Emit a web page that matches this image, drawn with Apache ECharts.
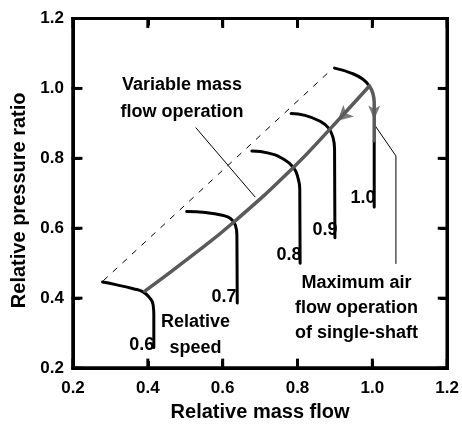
<!DOCTYPE html>
<html>
<head>
<meta charset="utf-8">
<script src="https://cdn.jsdelivr.net/npm/echarts@6/dist/echarts.min.js"></script>
<style>
html,body{margin:0;padding:0;background:#fff;}
#chart{width:462px;height:427px;}
</style>
</head>
<body>
<div id="chart"></div>
<script>
// ---- data (relative mass flow, relative pressure ratio) ----
const axisMin = 0.2, axisMax = 1.2, axisStep = 0.2;
const tickValues = [0.2, 0.4, 0.6, 0.8, 1.0, 1.2];
const speed06 = [[0.279,0.446],[0.317,0.438],[0.361,0.427],[0.387,0.418],[0.405,0.401],[0.414,0.382],[0.416,0.353],[0.416,0.259]];
const speed07 = [[0.504,0.648],[0.555,0.645],[0.599,0.637],[0.621,0.628],[0.634,0.609],[0.638,0.580],[0.639,0.386]];
const speed08 = [[0.678,0.821],[0.723,0.815],[0.762,0.798],[0.789,0.774],[0.802,0.741],[0.806,0.713],[0.807,0.500]];
const speed09 = [[0.783,0.928],[0.820,0.923],[0.860,0.906],[0.882,0.888],[0.895,0.859],[0.899,0.826],[0.900,0.573]];
const speed10Upper = [[0.899,1.058],[0.943,1.044],[0.974,1.027],[0.992,1.007]];
const speed10Gray = [[0.992,1.007],[1.001,0.987],[1.005,0.959],[1.005,0.850]];
const speed10Lower = [[1.005,0.850],[1.005,0.661]];
const operatingLine = [[0.392,0.420],[0.511,0.516],[0.630,0.618],[0.789,0.774],[0.886,0.883],[0.992,1.007]];
const surgeLine = [[0.281,0.450],[0.890,1.053]];
const leaderVariable = [[0.528,0.888],[0.687,0.689]];
const leaderMaximum = [[1.007,0.894],[1.063,0.807],[1.063,0.498]];
const arrowOperating = [[0.922,0.922]];
const arrowMaxFlow = [[1.005,0.931]];
const speedLabels = ['0.6','0.7','0.8','0.9','1.0'];

const FONT = '"Liberation Sans", Arial, Helvetica, sans-serif';
const GRAY = '#5a5a5a';
const GRID = {left:73, right:11.5, top:18.5, bottom:56.5};
const TICK_PX = 8, FRAME_W = 3;

const el = document.getElementById('chart');
const chart = echarts.init(el, null, {renderer:'canvas', width:462, height:427});

function curve(data, color, width, smooth) {
  return {
    type:'line', data:data, smooth:(smooth === undefined ? 0.5 : smooth), symbol:'none', silent:true,
    lineStyle:{color:color, width:width, cap:'round', join:'round'}
  };
}
function straight(data, color, width, type) {
  return {type:'line', data:data, smooth:false, symbol:'none', silent:true,
    lineStyle:{color:color, width:width, type:type || 'solid'}};
}
function frameSeries(data) {
  return {type:'line', data:data, smooth:false, symbol:'none', silent:true, clip:false, z:20,
    lineStyle:{color:'#000', width:FRAME_W, cap:'square', join:'miter', type:'solid'}};
}
const arrowPath = 'path://M5,0 L10,14 L5,10.5 L0,14 Z';

function makeAxis(position, withLabel, name, nameGap, margin, namePadding) {
  const ax = {
    type:'value', min:axisMin, max:axisMax, interval:axisStep, position:position,
    splitLine:{show:false},
    axisLine:{show:true, onZero:false, lineStyle:{color:'#000', width:FRAME_W}},
    axisTick:{show:true, inside:true, length:7, lineStyle:{color:'#000', width:FRAME_W}},
    axisLabel:{show:withLabel, formatter:function(v){return v.toFixed(1);}, color:'#000',
      fontFamily:FONT, fontWeight:'bold', fontSize:17, margin:margin || 8}
  };
  if (name) {
    ax.name = name; ax.nameLocation = 'middle'; ax.nameGap = nameGap;
    ax.nameTextStyle = {color:'#000', fontFamily:FONT, fontWeight:'bold', fontSize:20, padding:namePadding || 0};
  }
  return ax;
}

// frame and inward ticks drawn as series on the chart's own axes
const plotW = 462 - GRID.left - GRID.right;
const plotH = 427 - GRID.top - GRID.bottom;
const dx = TICK_PX / plotW * (axisMax - axisMin);
const dy = TICK_PX / plotH * (axisMax - axisMin);
const frameAndTicks = [
  frameSeries([[axisMin,axisMin],[axisMax,axisMin],[axisMax,axisMax],[axisMin,axisMax],[axisMin,axisMin]])
];
tickValues.forEach(function(v){
  frameAndTicks.push(frameSeries([[v, axisMin],[v, axisMin + dy]]));
  frameAndTicks.push(frameSeries([[v, axisMax],[v, axisMax - dy]]));
  frameAndTicks.push(frameSeries([[axisMin, v],[axisMin + dx, v]]));
  frameAndTicks.push(frameSeries([[axisMax, v],[axisMax - dx, v]]));
});

function textEl(t, x, y, lh) {
  return {
    type:'text', x:x, y:y, silent:true, z:100,
    style:{text:t, fill:'#000', font:'bold 18px ' + FONT, align:'center', verticalAlign:'middle', lineHeight:lh || 26}
  };
}
const labelPos = [[141.7,345],[224,296.7],[289,255],[325,230],[363,198.3]];
const g = [
  textEl('Variable mass\nflow operation', 182, 98.5, 26.5),
  textEl('Maximum air\nflow operation\nof single-shaft', 356.5, 308, 25),
  textEl('Relative\nspeed', 195.5, 335, 26)
];
speedLabels.forEach(function(s,i){ g.push(textEl(s, labelPos[i][0], labelPos[i][1])); });

const option = {
  animation:false,
  grid:{left:GRID.left, right:GRID.right, top:GRID.top, bottom:GRID.bottom,
        show:true, borderColor:'#000', borderWidth:FRAME_W, backgroundColor:'transparent'},
  xAxis:[
    makeAxis('bottom', true, 'Relative mass flow', 33, 12),
    makeAxis('top', false)
  ],
  yAxis:[
    makeAxis('left', true, 'Relative pressure ratio', 41, 9, [0,14,0,0]),
    makeAxis('right', false)
  ],
  series:[
    straight(surgeLine, '#000', 1, [6,7]),
    straight(leaderVariable, '#000', 1),
    straight(leaderMaximum, '#000', 1),
    curve(speed06, '#000', 3),
    curve(speed07, '#000', 3),
    curve(speed08, '#000', 3),
    curve(speed09, '#000', 3),
    curve(speed10Upper, '#000', 3),
    curve(speed10Lower, '#000', 3),
    curve(speed10Gray, GRAY, 3.5),
    curve(operatingLine, GRAY, 3.5, 0.5),
    {type:'scatter', data:arrowOperating, symbol:arrowPath, symbolSize:[16,15], symbolRotate:132, itemStyle:{color:GRAY}, silent:true, z:5},
    {type:'scatter', data:arrowMaxFlow, symbol:arrowPath, symbolSize:[12,14], symbolRotate:180, itemStyle:{color:GRAY}, silent:true, z:5}
  ].concat(frameAndTicks),
  graphic:g
};
chart.setOption(option);
</script>
</body>
</html>
